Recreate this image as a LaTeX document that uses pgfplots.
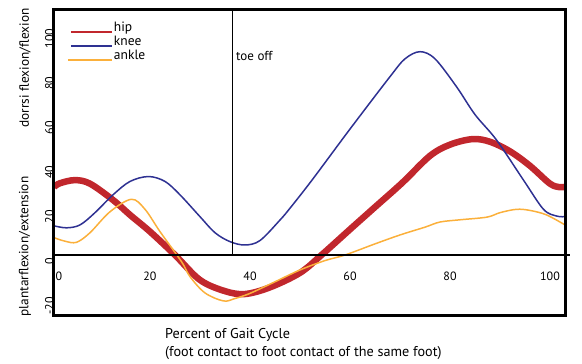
\documentclass[border=0pt]{standalone}
\usepackage{pgfplots}
\pgfplotsset{compat=1.18}
\usepackage{fontspec}
\setmainfont{PT Sans}
\definecolor{hipred}{HTML}{C1272D}
\definecolor{kneeblue}{HTML}{2E3192}
\definecolor{ankleorange}{HTML}{FBB03B}
\begin{document}
\begin{tikzpicture}
\useasboundingbox (-54pt,-48pt) rectangle (528pt,316pt);
\begin{axis}[
  scale only axis, width=511pt, height=306pt,
  xmin=0.8, xmax=103, ymin=-27.35, ymax=109.9,
  axis on top,
  clip mode=individual,
  axis line style={line width=3pt, black},
  major tick length=0pt,
  xtick={1.8,20,40,60,80,100}, xticklabels={0,20,40,60,80,100},
  ytick={-20,0,20,40,60,80,100},
  xticklabel style={anchor=center, inner sep=0pt, yshift=40pt, font=\fontsize{12}{14}\selectfont},
  yticklabel style={rotate=90, anchor=south, inner sep=0pt, xshift=-6.5pt, font=\fontsize{12}{14}\selectfont},
  /pgf/number format/assume math mode=true,
  legend cell align=left,
  legend style={at={(0.0254,0.958)}, anchor=north west, draw=none, fill=none,
    inner sep=0pt, outer sep=0pt, row sep=2.5pt, column sep=1pt, font=\fontsize{13.5}{15}\selectfont,
    nodes={inner sep=0pt, text height=9pt, text depth=2.5pt}},
]
\addplot[hipred, line width=6.5pt, smooth, tension=0.55,
  legend image code/.code={\draw[hipred, line width=2pt] (0pt,-3pt) -- (41pt,-3pt);}] coordinates {
(0.8,30.5) (2,32.2) (5,33.6) (8,32) (12.6,24.7) (16,18) (20,10.5) (25,0) (30,-11.2)
(35,-16.2) (39,-17.5) (44,-14.5) (50,-8) (54.3,0) (60,11.5) (65,21.5) (70.5,32.5)
(76,44.5) (80,49.5) (84.5,52) (88,50.8) (92,46.5) (96,40) (100,32) (102,30.4) (103,30.6)};
\addlegendentry{hip}
\addplot[kneeblue, line width=1.5pt, smooth, tension=0.55,
  legend image code/.code={\draw[kneeblue, line width=2pt] (0pt,-3pt) -- (41pt,-3pt);}] coordinates {
(0.8,13.1) (3.3,12.2) (6,13.5) (9,19) (12.6,27) (16,33) (19.7,35.2) (23,33) (26,27)
(30,17.2) (33,10) (36,6) (39,4.5) (42,6.5) (46,15.7) (48,21) (52.4,33.6) (60,56.5)
(68,80) (71,88) (74,91.2) (77,88) (81.3,75.5) (85,63) (89.3,51.6) (94.7,33.6)
(98.7,20.5) (101.3,17.5) (103,17.2)};
\addlegendentry{knee}
\addplot[ankleorange, line width=1.5pt, smooth, tension=0.55,
  legend image code/.code={\draw[ankleorange, line width=2pt] (-3pt,-3pt) -- (41pt,-3pt);}] coordinates {
(0.8,7.8) (3,6.2) (5.3,5.7) (8,10) (12,19.4) (16.3,25) (19,20.5) (22,10.5) (26.3,-3)
(28,-9.7) (31,-17) (34.7,-20.6) (37,-19.5) (40,-17.2) (45,-12) (50,-6.7) (55,-2.5)
(59,0) (65,5) (70,9) (75,12.5) (78,14.8) (82,15.8) (87.4,17) (90,19) (93.3,20.5)
(96,20) (99.3,18) (103,13.5)};
\addlegendentry{ankle}
\draw[line width=2.6pt] (axis cs:0.8,0) -- (axis cs:104,0);
\draw[line width=0.9pt] (axis cs:36.4,0) -- (axis cs:36.4,109.9);
\end{axis}
\node[rotate=90, font=\fontsize{13.3}{15}\selectfont] at (-29pt,248pt) {dorrsi flexion/flexion};
\node[rotate=90, font=\fontsize{13.3}{15}\selectfont] at (-29pt,69.5pt) {plantarflexion/extension};
\node[anchor=base west, inner sep=0pt, font=\fontsize{14.2}{17}\selectfont] at (111pt,-23pt) {Percent of Gait Cycle};
\node[anchor=base west, inner sep=0pt, font=\fontsize{14.2}{17}\selectfont] at (111pt,-41pt) {(foot contact to foot contact of the same foot)};
\node[anchor=base west, inner sep=0pt, font=\fontsize{13}{15}\selectfont] at (182pt,255pt) {toe off};
\end{tikzpicture}
\end{document}
